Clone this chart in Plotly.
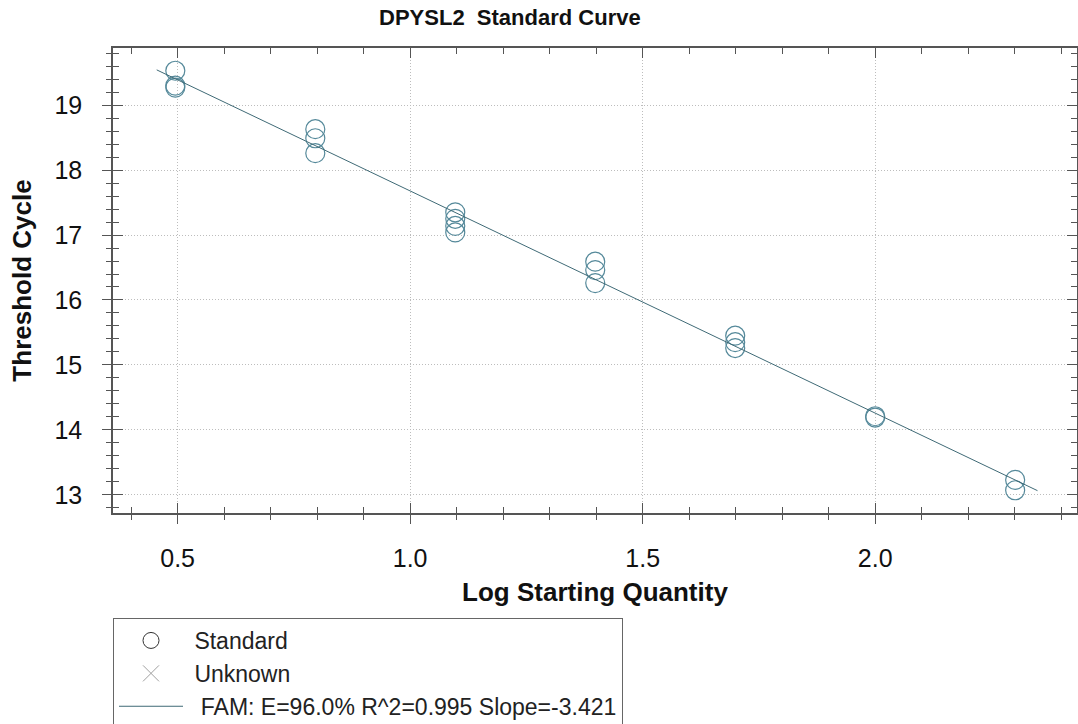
import plotly.graph_objects as go

# qPCR standard curve: log starting quantity vs. threshold cycle (replicates)
log_qty = [0.495, 0.495, 0.495,
           0.796, 0.796, 0.796,
           1.097, 1.097, 1.097, 1.097,
           1.398, 1.398, 1.398,
           1.699, 1.699, 1.699,
           2.000, 2.000,
           2.301, 2.301]
ct_values = [19.53, 19.30, 19.27,
             18.63, 18.49, 18.26,
             17.35, 17.25, 17.14, 17.04,
             16.59, 16.46, 16.26,
             15.45, 15.35, 15.26,
             14.21, 14.19,
             13.23, 13.07]

# linear fit reported in the legend
fit_slope = -3.421
fit_intercept = 21.10
fit_x = [0.455, 2.349]
fit_label = "FAM: E=96.0% R^2=0.995 Slope=-3.421"

x_ticks = [0.5, 1.0, 1.5, 2.0]
x_tick_text = ["0.5", "1.0", "1.5", "2.0"]
y_ticks = [13, 14, 15, 16, 17, 18, 19]

x_range = [0.361, 2.434]
y_range = [12.72, 19.88]

FONT = "Arial, Liberation Sans, sans-serif"
AXIS_COLOR = "#555555"
MARKER_COLOR = "#55899a"
LINE_COLOR = "#3f6a76"
GRID_COLOR = "#bdbdbd"
NBSP = "\u00a0"

fig = go.Figure()

# standards, plotted (legend key drawn by a separate key-only entry)
fig.add_trace(go.Scatter(
    x=log_qty, y=ct_values, mode="markers", name="Standard",
    legendgroup="std", showlegend=False,
    marker=dict(symbol="circle-open", size=19, color=MARKER_COLOR,
                line=dict(width=1.2, color=MARKER_COLOR)),
))
fig.add_trace(go.Scatter(
    x=[None], y=[None], mode="markers", name=NBSP + "Standard",
    legendgroup="std",
    marker=dict(symbol="circle-open", size=18, color="#333333",
                line=dict(width=1, color="#333333")),
))
fig.add_trace(go.Scatter(
    x=[None], y=[None], mode="markers", name=NBSP + "Unknown",
    marker=dict(symbol="x-thin-open", size=20, color="#a0a0a0",
                line=dict(width=1, color="#a0a0a0")),
))
fig.add_trace(go.Scatter(
    x=fit_x, y=[fit_intercept + fit_slope * v for v in fit_x],
    mode="lines", name=NBSP * 2 + fit_label,
    line=dict(color=LINE_COLOR, width=1),
))
# invisible companion on the secondary axes so their outer ticks are drawn
fig.add_trace(go.Scatter(
    x=log_qty, y=ct_values, mode="markers", xaxis="x2", yaxis="y2",
    marker=dict(opacity=0), showlegend=False, hoverinfo="skip",
))

fig.update_layout(
    width=1078, height=724,
    margin=dict(l=113, r=1, t=48, b=211, autoexpand=False),
    paper_bgcolor="white", plot_bgcolor="white",
    font=dict(family=FONT, color="#111111"),
    title=dict(text="<b>DPYSL2\u00a0 Standard Curve</b>", font=dict(size=22, color="#111111"),
               x=0.473, xref="container", xanchor="center",
               y=1 - 17 / 724, yref="container", yanchor="middle"),
    xaxis=dict(
        range=x_range, tickvals=x_ticks, ticktext=x_tick_text,
        ticks="inside", ticklen=10, tickwidth=1, tickcolor=AXIS_COLOR,
        minor=dict(dtick=0.1, tick0=0, ticks="inside", ticklen=6, tickcolor=AXIS_COLOR, showgrid=False),
        showline=True, linecolor=AXIS_COLOR, linewidth=1.5, mirror="allticks",
        showgrid=True, gridcolor=GRID_COLOR, griddash="1px,2px", gridwidth=1,
        zeroline=False, tickfont=dict(size=25, color="#111111"),
        ticklabelstandoff=22,
        title=dict(text="<b>Log Starting Quantity</b>", font=dict(size=26), standoff=12),
    ),
    yaxis=dict(
        range=y_range, tickvals=y_ticks,
        ticks="inside", ticklen=10, tickwidth=1, tickcolor=AXIS_COLOR,
        minor=dict(dtick=0.2, tick0=0, ticks="inside", ticklen=6, tickcolor=AXIS_COLOR, showgrid=False),
        showline=True, linecolor=AXIS_COLOR, linewidth=1.5, mirror="allticks",
        showgrid=True, gridcolor=GRID_COLOR, griddash="1px,2px", gridwidth=1,
        zeroline=False, tickfont=dict(size=25, color="#111111"),
        ticklabelstandoff=24,
        title=dict(text="<b>Threshold Cycle</b>", font=dict(size=26), standoff=15),
    ),
    xaxis2=dict(
        range=x_range, overlaying="x", anchor="y2", side="bottom",
        tickvals=x_ticks, showticklabels=False,
        ticks="outside", ticklen=10, tickwidth=1, tickcolor=AXIS_COLOR,
        minor=dict(dtick=0.1, tick0=0, ticks="outside", ticklen=6, tickcolor=AXIS_COLOR, showgrid=False),
        showgrid=False, showline=False, zeroline=False,
    ),
    yaxis2=dict(
        range=y_range, overlaying="y", anchor="x2", side="left",
        tickvals=y_ticks, showticklabels=False,
        ticks="outside", ticklen=10, tickwidth=1, tickcolor=AXIS_COLOR,
        minor=dict(dtick=0.2, tick0=0, ticks="outside", ticklen=6, tickcolor=AXIS_COLOR, showgrid=False),
        showgrid=False, showline=False, zeroline=False,
    ),
    legend=dict(
        x=0, xref="paper", xanchor="left",
        y=(513 - 618) / 465, yref="paper", yanchor="top",
        bgcolor="white", bordercolor="#666666", borderwidth=1,
        font=dict(size=23, color="#222222"),
        itemwidth=64, tracegroupgap=0, traceorder="normal",
    ),
    showlegend=True,
)

fig.write_html("out.html")
